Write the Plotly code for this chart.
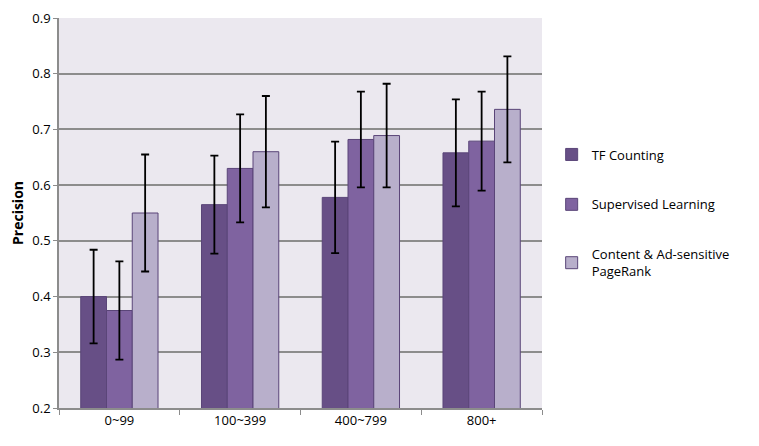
import plotly.graph_objects as go

categories = ["0~99", "100~399", "400~799", "800+"]
tf_counting = [0.40, 0.565, 0.578, 0.658]
tf_err = [0.084, 0.088, 0.10, 0.096]
supervised = [0.375, 0.63, 0.682, 0.679]
supervised_err = [0.088, 0.097, 0.086, 0.089]
content_pr = [0.55, 0.66, 0.689, 0.736]
content_err = [0.105, 0.10, 0.093, 0.095]

series = [
    ("TF Counting", tf_counting, tf_err, "#674f86"),
    ("Supervised Learning", supervised, supervised_err, "#7f63a0"),
    ("Content & Ad-sensitive<br>PageRank", content_pr, content_err, "#b8afcb"),
]

fig = go.Figure()
for i, (name, vals, err, color) in enumerate(series):
    fig.add_trace(go.Bar(
        name=name, x=categories, y=vals, marker_color=color, legendgroup=f"g{i}",
        marker_line=dict(color="#5a4578", width=1),
        error_y=dict(type="data", array=err, color="black", thickness=1.8, width=4),
    ))

fig.update_layout(
    width=759, height=446,
    margin=dict(l=51, r=225, t=10, b=46, autoexpand=False),
    barmode="group", bargap=0.36, bargroupgap=0,
    plot_bgcolor="#ebe8ef", paper_bgcolor="white",
    font=dict(family="Open Sans, Calibri, sans-serif", size=13, color="black"),
    legend=dict(x=1.02, y=0.5, yanchor="middle", tracegroupgap=30,
                font=dict(size=13)),
    yaxis=dict(range=[0.2, 0.9], dtick=0.1, tickformat=".1f",
               gridcolor="#8c8c8c", gridwidth=1.5, showline=True,
               linecolor="#8c8c8c", linewidth=1.5, zeroline=False,
               title=dict(text="<b>Precision</b>", font=dict(size=14), standoff=8),
               ticks="outside", ticklen=4, tickcolor="#8c8c8c"),
    xaxis=dict(showline=True, linecolor="#8c8c8c", linewidth=1.5, showgrid=False,
               ticks="outside", tickson="boundaries", ticklen=5, tickcolor="#8c8c8c"),
)

fig.write_html("out.html")
